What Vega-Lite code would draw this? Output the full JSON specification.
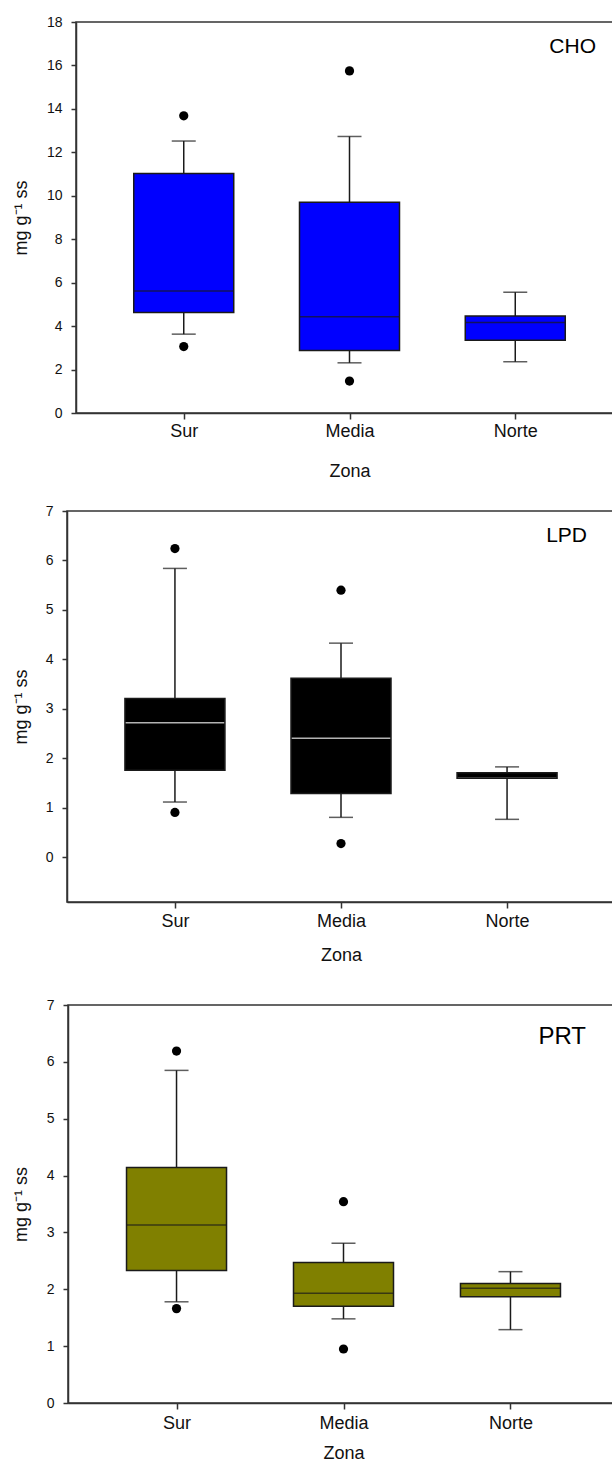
{
  "$schema": "https://vega.github.io/schema/vega-lite/v6.json",
  "padding": {"left": 10, "top": 14, "right": 0, "bottom": 0},
  "background": "white",
  "config": {
    "font": "Liberation Sans",
    "view": {"stroke": "#333333", "strokeWidth": 1.5},
    "axis": {"domainColor": "#333333", "domainWidth": 1.5, "tickColor": "#333333", "tickWidth": 1.5, "labelFont": "Liberation Sans", "titleFont": "Liberation Sans", "labelColor": "#111111", "titleColor": "#111111", "grid": false, "titleFontWeight": "normal"},
    "axisY": {"labelFontSize": 14, "tickSize": 5, "labelPadding": 9, "titleFontSize": 18, "titlePadding": 16, "format": "d"},
    "axisX": {"labelFontSize": 18, "tickSize": 6, "labelPadding": 3, "titleFontSize": 18, "titlePadding": 22, "labelAngle": 0},
    "title": {"font": "Liberation Sans", "fontSize": 21, "fontWeight": "normal", "color": "#000000", "anchor": "end", "frame": "group"}
  },
  "datasets": {
    "boxes": [
      {"panel": "CHO", "zona": "Sur", "lo": 3.63, "q1": 4.63, "med": 5.62, "q3": 11.03, "hi": 12.52},
      {"panel": "CHO", "zona": "Media", "lo": 2.31, "q1": 2.88, "med": 4.43, "q3": 9.70, "hi": 12.73},
      {"panel": "CHO", "zona": "Norte", "lo": 2.36, "q1": 3.35, "med": 4.17, "q3": 4.47, "hi": 5.56},
      {"panel": "LPD", "zona": "Sur", "lo": 1.12, "q1": 1.76, "med": 2.72, "q3": 3.21, "hi": 5.84},
      {"panel": "LPD", "zona": "Media", "lo": 0.81, "q1": 1.29, "med": 2.41, "q3": 3.62, "hi": 4.33},
      {"panel": "LPD", "zona": "Norte", "lo": 0.77, "q1": 1.60, "med": 1.60, "q3": 1.71, "hi": 1.83},
      {"panel": "PRT", "zona": "Sur", "lo": 1.78, "q1": 2.33, "med": 3.13, "q3": 4.14, "hi": 5.85},
      {"panel": "PRT", "zona": "Media", "lo": 1.48, "q1": 1.70, "med": 1.93, "q3": 2.47, "hi": 2.81},
      {"panel": "PRT", "zona": "Norte", "lo": 1.29, "q1": 1.87, "med": 2.02, "q3": 2.10, "hi": 2.31}
    ],
    "outliers": [
      {"panel": "CHO", "zona": "Sur", "value": 13.68},
      {"panel": "CHO", "zona": "Sur", "value": 3.06},
      {"panel": "CHO", "zona": "Media", "value": 15.75},
      {"panel": "CHO", "zona": "Media", "value": 1.47},
      {"panel": "LPD", "zona": "Sur", "value": 6.24},
      {"panel": "LPD", "zona": "Sur", "value": 0.91},
      {"panel": "LPD", "zona": "Media", "value": 5.40},
      {"panel": "LPD", "zona": "Media", "value": 0.28},
      {"panel": "PRT", "zona": "Sur", "value": 6.19},
      {"panel": "PRT", "zona": "Sur", "value": 1.66},
      {"panel": "PRT", "zona": "Media", "value": 3.54},
      {"panel": "PRT", "zona": "Media", "value": 0.95}
    ]
  },
  "spacing": 22,
  "vconcat": [
    {"spacing": 0, "hconcat": [
    {"width": 1, "height": 1, "data": {"values": []}, "mark": "point", "view": {"stroke": null}},
    {
      "width": 547, "height": 391,
      "title": {"text": "CHO", "offset": -42, "dx": -27},
      "encoding": {
        "x": {"field": "zona", "type": "nominal", "sort": ["Sur", "Media", "Norte"], "scale": {"type": "point", "padding": 0.65}, "title": "Zona", "axis": {"titlePadding": 22, "labelPadding": 3}}
      },
      "layer": [
        {"data": {"name": "boxes"}, "transform": [{"filter": "datum.panel === 'CHO'"}], "mark": {"type": "rule", "color": "#1a1a1a", "strokeWidth": 1.5},
         "encoding": {"y": {"field": "lo", "type": "quantitative", "scale": {"domain": [0, 18], "nice": false, "zero": false}, "axis": {"values": [0, 2, 4, 6, 8, 10, 12, 14, 16, 18]}, "title": "mg g⁻¹ ss"}, "y2": {"field": "hi"}}},
        {"data": {"name": "boxes"}, "transform": [{"filter": "datum.panel === 'CHO'"}], "mark": {"type": "tick", "color": "#1a1a1a", "size": 24, "thickness": 1.5}, "encoding": {"y": {"field": "lo", "type": "quantitative"}}},
        {"data": {"name": "boxes"}, "transform": [{"filter": "datum.panel === 'CHO'"}], "mark": {"type": "tick", "color": "#1a1a1a", "size": 24, "thickness": 1.5}, "encoding": {"y": {"field": "hi", "type": "quantitative"}}},
        {"data": {"name": "boxes"}, "transform": [{"filter": "datum.panel === 'CHO'"}], "mark": {"type": "bar", "width": 100, "color": "#0000ff"}, "encoding": {"y": {"field": "q1", "type": "quantitative"}, "y2": {"field": "q3"}}},
        {"data": {"name": "boxes"}, "transform": [{"filter": "datum.panel === 'CHO'"}], "mark": {"type": "tick", "color": "#1a1a1a", "size": 100, "thickness": 1.5}, "encoding": {"y": {"field": "med", "type": "quantitative"}}},
        {"data": {"name": "boxes"}, "transform": [{"filter": "datum.panel === 'CHO'"}], "mark": {"type": "bar", "width": 100, "fillOpacity": 0, "stroke": "#1a1a1a", "strokeWidth": 1.5}, "encoding": {"y": {"field": "q1", "type": "quantitative"}, "y2": {"field": "q3"}}},
        {"data": {"name": "outliers"}, "transform": [{"filter": "datum.panel === 'CHO'"}], "mark": {"type": "point", "filled": true, "color": "#000000", "size": 85, "opacity": 1}, "encoding": {"y": {"field": "value", "type": "quantitative"}}}
      ]
    }]},
    {
      "spacing": 32,
      "vconcat": [
        {"spacing": 0, "hconcat": [
        {"width": 1, "height": 1, "data": {"values": []}, "mark": "point", "view": {"stroke": null}},
        {
          "width": 548, "height": 391,
          "title": {"text": "LPD", "offset": -42, "dx": -28},
          "encoding": {
            "x": {"field": "zona", "type": "nominal", "sort": ["Sur", "Media", "Norte"], "scale": {"type": "point", "padding": 0.65}, "title": "Zona", "axis": {"titlePadding": 16, "labelPadding": 4}}
          },
          "layer": [
            {"data": {"name": "boxes"}, "transform": [{"filter": "datum.panel === 'LPD'"}], "mark": {"type": "rule", "color": "#1a1a1a", "strokeWidth": 1.5},
             "encoding": {"y": {"field": "lo", "type": "quantitative", "scale": {"domain": [-0.9, 7], "nice": false, "zero": false}, "axis": {"values": [0, 1, 2, 3, 4, 5, 6, 7], "titlePadding": 15}, "title": "mg g⁻¹ ss"}, "y2": {"field": "hi"}}},
            {"data": {"name": "boxes"}, "transform": [{"filter": "datum.panel === 'LPD'"}], "mark": {"type": "tick", "color": "#1a1a1a", "size": 24, "thickness": 1.5}, "encoding": {"y": {"field": "lo", "type": "quantitative"}}},
            {"data": {"name": "boxes"}, "transform": [{"filter": "datum.panel === 'LPD'"}], "mark": {"type": "tick", "color": "#1a1a1a", "size": 24, "thickness": 1.5}, "encoding": {"y": {"field": "hi", "type": "quantitative"}}},
            {"data": {"name": "boxes"}, "transform": [{"filter": "datum.panel === 'LPD'"}], "mark": {"type": "bar", "width": 100, "color": "#000000"}, "encoding": {"y": {"field": "q1", "type": "quantitative"}, "y2": {"field": "q3"}}},
            {"data": {"name": "boxes"}, "transform": [{"filter": "datum.panel === 'LPD'"}], "mark": {"type": "tick", "color": "#ffffff", "size": 100, "thickness": 1.5}, "encoding": {"y": {"field": "med", "type": "quantitative"}}},
            {"data": {"name": "boxes"}, "transform": [{"filter": "datum.panel === 'LPD'"}], "mark": {"type": "bar", "width": 100, "fillOpacity": 0, "stroke": "#1a1a1a", "strokeWidth": 1.5}, "encoding": {"y": {"field": "q1", "type": "quantitative"}, "y2": {"field": "q3"}}},
            {"data": {"name": "outliers"}, "transform": [{"filter": "datum.panel === 'LPD'"}], "mark": {"type": "point", "filled": true, "color": "#000000", "size": 85, "opacity": 1}, "encoding": {"y": {"field": "value", "type": "quantitative"}}}
          ]
        }]},
        {"spacing": 0, "hconcat": [
        {"width": 1, "height": 1, "data": {"values": []}, "mark": "point", "view": {"stroke": null}},
        {
          "width": 551, "height": 398,
          "title": {"text": "PRT", "offset": -51, "dx": -33, "fontSize": 24},
          "encoding": {
            "x": {"field": "zona", "type": "nominal", "sort": ["Sur", "Media", "Norte"], "scale": {"type": "point", "padding": 0.65}, "title": "Zona", "axis": {"titlePadding": 12, "labelPadding": 5}}
          },
          "layer": [
            {"data": {"name": "boxes"}, "transform": [{"filter": "datum.panel === 'PRT'"}], "mark": {"type": "rule", "color": "#1a1a1a", "strokeWidth": 1.5},
             "encoding": {"y": {"field": "lo", "type": "quantitative", "scale": {"domain": [0, 7], "nice": false, "zero": false}, "axis": {"values": [0, 1, 2, 3, 4, 5, 6, 7]}, "title": "mg g⁻¹ ss"}, "y2": {"field": "hi"}}},
            {"data": {"name": "boxes"}, "transform": [{"filter": "datum.panel === 'PRT'"}], "mark": {"type": "tick", "color": "#1a1a1a", "size": 24, "thickness": 1.5}, "encoding": {"y": {"field": "lo", "type": "quantitative"}}},
            {"data": {"name": "boxes"}, "transform": [{"filter": "datum.panel === 'PRT'"}], "mark": {"type": "tick", "color": "#1a1a1a", "size": 24, "thickness": 1.5}, "encoding": {"y": {"field": "hi", "type": "quantitative"}}},
            {"data": {"name": "boxes"}, "transform": [{"filter": "datum.panel === 'PRT'"}], "mark": {"type": "bar", "width": 100, "color": "#808000"}, "encoding": {"y": {"field": "q1", "type": "quantitative"}, "y2": {"field": "q3"}}},
            {"data": {"name": "boxes"}, "transform": [{"filter": "datum.panel === 'PRT'"}], "mark": {"type": "tick", "color": "#1a1a1a", "size": 100, "thickness": 1.5}, "encoding": {"y": {"field": "med", "type": "quantitative"}}},
            {"data": {"name": "boxes"}, "transform": [{"filter": "datum.panel === 'PRT'"}], "mark": {"type": "bar", "width": 100, "fillOpacity": 0, "stroke": "#1a1a1a", "strokeWidth": 1.5}, "encoding": {"y": {"field": "q1", "type": "quantitative"}, "y2": {"field": "q3"}}},
            {"data": {"name": "outliers"}, "transform": [{"filter": "datum.panel === 'PRT'"}], "mark": {"type": "point", "filled": true, "color": "#000000", "size": 85, "opacity": 1}, "encoding": {"y": {"field": "value", "type": "quantitative"}}}
          ]
        }]}
      ]
    }
  ]
}
